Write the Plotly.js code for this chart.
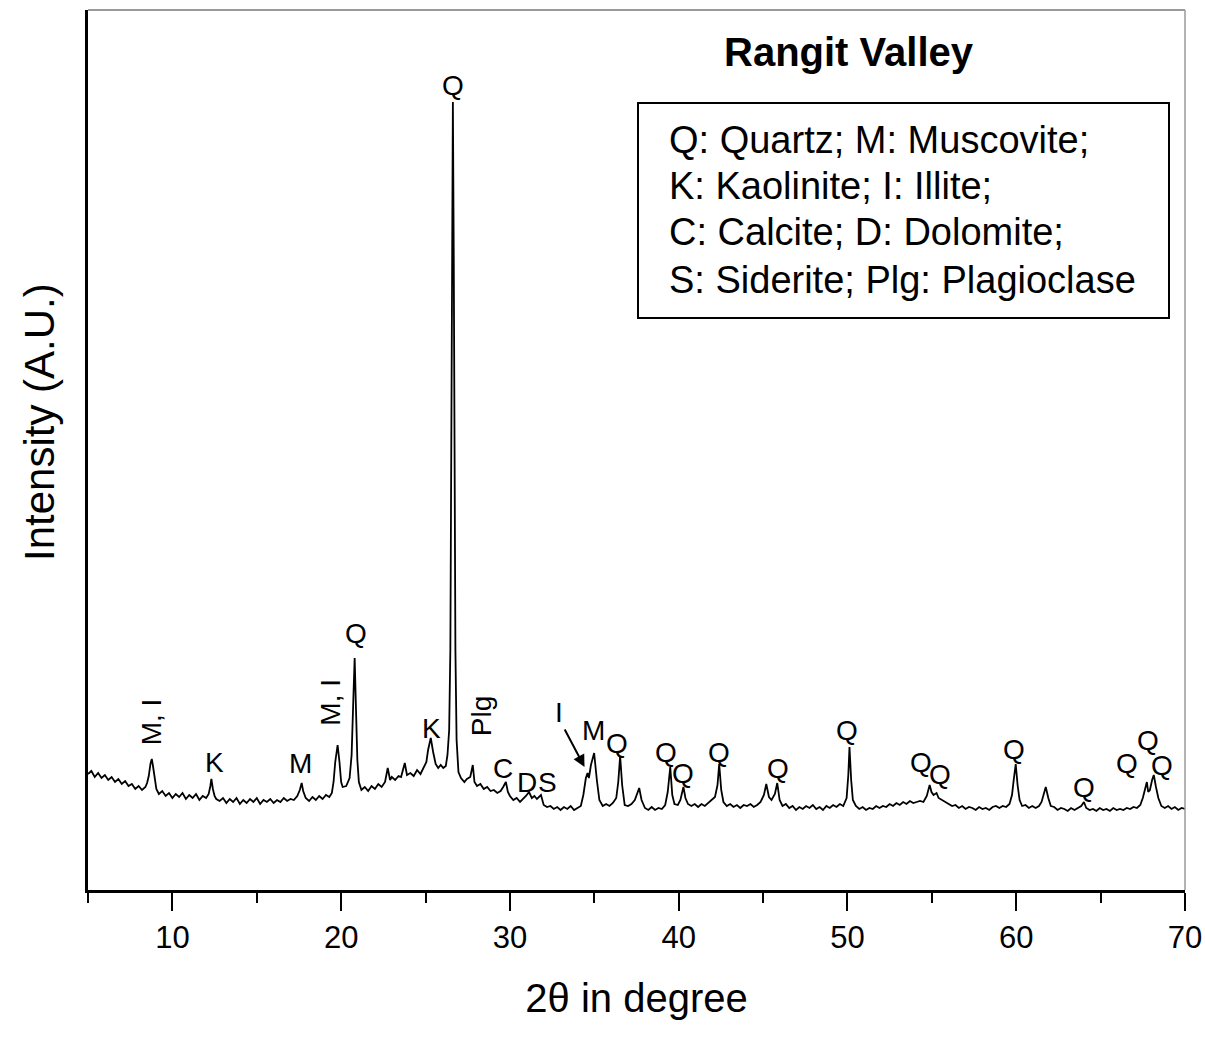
<!DOCTYPE html>
<html>
<head>
<meta charset="utf-8">
<script src="https://cdn.plot.ly/plotly-3.0.1.min.js"></script>
<style>
html,body{margin:0;padding:0;background:#fff;}
#chart{width:1205px;height:1037px;}
</style>
</head>
<body>
<div id="chart"></div>
<script>
// ---- Data (2θ in degree, intensity in arbitrary units) ----
var twoTheta = [5.0,5.2,5.4,5.6,5.8,6.0,6.2,6.4,6.6,6.8,7.0,7.2,7.4,7.6,7.8,8.0,8.2,8.4,8.5,8.6,8.7,8.78,8.85,8.95,9.05,9.2,9.4,9.6,9.8,10.0,10.2,10.4,10.6,10.8,11.0,11.2,11.4,11.6,11.8,12.0,12.15,12.25,12.31,12.4,12.5,12.6,12.8,13.0,13.2,13.4,13.6,13.8,14.0,14.2,14.4,14.6,14.8,15.0,15.2,15.4,15.6,15.8,16.0,16.2,16.4,16.6,16.8,17.0,17.2,17.4,17.55,17.66,17.75,17.9,18.1,18.3,18.5,18.7,18.9,19.1,19.3,19.45,19.55,19.65,19.79,19.9,20.0,20.09,20.3,20.5,20.62,20.72,20.80,20.88,20.96,21.05,21.2,21.4,21.6,21.8,22.0,22.2,22.4,22.6,22.76,22.9,23.0,23.2,23.4,23.55,23.77,23.9,24.1,24.3,24.5,24.7,24.9,25.05,25.15,25.31,25.45,25.6,25.75,25.9,26.05,26.2,26.3,26.4,26.47,26.52,26.57,26.62,26.67,26.72,26.77,26.84,26.95,27.1,27.3,27.45,27.65,27.8,27.9,28.05,28.25,28.45,28.65,28.85,29.05,29.25,29.45,29.6,29.76,29.88,30.0,30.2,30.4,30.6,30.8,30.95,31.13,31.3,31.45,31.6,31.84,32.0,32.2,32.4,32.6,32.8,33.0,33.2,33.4,33.6,33.8,34.0,34.2,34.35,34.5,34.6,34.68,34.8,34.99,35.15,35.3,35.5,35.7,35.9,36.1,36.3,36.42,36.53,36.65,36.8,37.0,37.2,37.4,37.66,37.8,38.0,38.2,38.4,38.6,38.8,39.0,39.2,39.35,39.5,39.62,39.75,39.95,40.1,40.28,40.4,40.55,40.75,40.95,41.15,41.35,41.55,41.75,41.95,42.15,42.3,42.4,42.52,42.65,42.85,43.05,43.25,43.45,43.65,43.85,44.05,44.25,44.45,44.65,44.85,45.05,45.19,45.35,45.5,45.7,45.84,45.98,46.15,46.35,46.55,46.75,46.95,47.15,47.35,47.55,47.75,47.95,48.15,48.35,48.55,48.75,48.95,49.15,49.35,49.55,49.75,49.95,50.05,50.12,50.22,50.32,50.5,50.7,50.9,51.1,51.3,51.5,51.7,51.9,52.1,52.3,52.5,52.7,52.9,53.1,53.3,53.5,53.7,53.9,54.1,54.3,54.5,54.7,54.87,54.98,55.1,55.28,55.4,55.6,55.8,56.0,56.2,56.4,56.6,56.8,57.0,57.2,57.4,57.6,57.8,58.0,58.2,58.4,58.6,58.8,59.0,59.2,59.4,59.6,59.75,59.85,59.97,60.08,60.2,60.35,60.55,60.75,60.95,61.15,61.35,61.5,61.75,61.9,62.05,62.25,62.45,62.65,62.85,63.05,63.25,63.45,63.65,63.85,64.01,64.15,64.35,64.55,64.75,64.95,65.15,65.35,65.55,65.75,65.95,66.15,66.35,66.55,66.75,66.95,67.15,67.35,67.5,67.62,67.74,67.82,67.92,68.05,68.15,68.28,68.42,68.6,68.8,69.0,69.2,69.4,69.6,69.8,70.0];
var intensity = [116,119,113,117,112,115,110,113,108,111,106,109,104,106,101,104,100,103,107,114,126,131,124,110,101,96,99,94,97,92,96,93,97,91,95,92,96,90,94,92,96,104,111,101,94,91,89,92,87,91,88,92,86,90,87,91,88,92,86,90,88,91,87,90,88,92,89,91,90,94,100,107,99,92,89,93,90,94,91,95,93,97,108,128,145,128,108,103,104,112,135,190,232,180,130,108,100,103,99,104,101,106,103,108,122,110,113,110,114,113,127,115,117,114,120,116,122,128,140,152,138,126,122,125,122,124,135,160,240,440,640,788,640,440,240,150,118,112,108,111,113,125,108,104,106,101,103,99,100,97,99,103,108,98,94,90,92,88,91,94,98,92,94,91,95,85,83,84,81,83,80,83,81,84,80,82,84,95,112,117,112,125,137,110,90,84,86,84,87,92,108,134,105,85,84,86,90,102,90,82,80,83,80,82,81,85,98,123,95,86,85,90,103,92,86,84,86,83,86,84,87,90,93,105,126,100,88,84,86,83,85,82,85,84,86,83,85,88,95,106,93,90,96,107,90,84,86,82,84,80,83,81,84,82,85,81,83,80,84,82,85,83,86,84,92,115,143,110,90,84,81,83,80,82,81,84,82,84,83,86,84,87,85,88,86,89,87,88,89,88,94,105,98,95,97,92,90,88,86,84,85,82,84,81,83,82,80,83,81,82,80,83,84,82,84,83,86,95,110,126,105,90,84,85,82,84,82,84,88,103,92,84,83,80,82,81,79,82,80,82,84,88,82,80,81,79,82,80,81,79,82,80,81,80,82,81,83,82,85,92,100,108,98,100,110,115,103,92,84,82,84,81,83,80,82,81];

// Peak labels (phase letter, 2θ, intensity where the label sits, rotation)
var peakLabels = ["M, I","K","M","M, I","Q","K","Q","Plg","C","D","S","I","M","Q","Q","Q","Q","Q","Q","Q","Q","Q","Q","Q","Q","Q"];
var peakLabelTheta = [8.75,12.49,17.61,19.32,20.88,25.37,26.63,28.30,29.59,31.01,32.20,32.91,34.93,36.35,39.26,40.27,42.40,45.89,50.00,54.34,55.46,59.85,64.01,66.57,67.82,68.66];
var peakLabelInt = [168,128,127,188,257,162,805,174,122,108,108,178,160,147,138,117,138,122,160,128,116,141,103,127,150,125];
var peakLabelAngle = [-90,0,0,-90,0,0,0,-90,0,0,0,0,0,0,0,0,0,0,0,0,0,0,0,0,0,0];

// Arrow pointing to the illite shoulder
var arrowTail = [33.20, 162];
var arrowHead = [34.42, 123];

var chartTitle = "Rangit Valley";
var xTitle = "2\u03b8 in degree";
var yTitle = "Intensity (A.U.)";
var legendLines = ["Q: Quartz; M: Muscovite;", "K: Kaolinite; I: Illite;", "C: Calcite; D: Dolomite;", "S: Siderite; Plg: Plagioclase"];
var xTickValues = [10,20,30,40,50,60,70];
var xMinorTickValues = [5,15,25,35,45,55,65];

// ---- Chart ----
var FONT = "Liberation Sans, Arial, Helvetica, sans-serif";
var L = 88, R = 1185, T = 10, B = 890;
function px2paperX(px){ return (px - L) / (R - L); }
function py2paperY(py){ return (B - py) / (B - T); }

var annotations = [];
for (var i = 0; i < peakLabels.length; i++) {
  annotations.push({
    x: peakLabelTheta[i], y: peakLabelInt[i], xref: 'x', yref: 'y',
    text: peakLabels[i], showarrow: false, textangle: peakLabelAngle[i],
    font: {family: FONT, size: 28, color: '#000'},
    xanchor: 'center', yanchor: 'middle'
  });
}
annotations.push({
  x: arrowHead[0], y: arrowHead[1], ax: arrowTail[0], ay: arrowTail[1],
  xref: 'x', yref: 'y', axref: 'x', ayref: 'y',
  text: '', showarrow: true, arrowhead: 2, arrowsize: 1.2, arrowwidth: 2, arrowcolor: '#000'
});
annotations.push({
  x: px2paperX(849), y: py2paperY(52), xref: 'paper', yref: 'paper',
  text: '<b>' + chartTitle + '</b>', showarrow: false,
  font: {family: FONT, size: 40, color: '#000'}, xanchor: 'center', yanchor: 'middle'
});
// y-axis title, drawn as rotated text left of the axis (reference sits slightly above centre)
annotations.push({
  x: px2paperX(40), y: py2paperY(422), xref: 'paper', yref: 'paper',
  text: yTitle, showarrow: false, textangle: -90,
  font: {family: FONT, size: 42, color: '#000'}, xanchor: 'center', yanchor: 'middle'
});
var lineY = [140, 186, 232, 280];
for (var j = 0; j < legendLines.length; j++) {
  annotations.push({
    x: px2paperX(667), y: py2paperY(lineY[j]), xref: 'paper', yref: 'paper',
    text: legendLines[j], showarrow: false,
    font: {family: FONT, size: 38, color: '#000'}, xanchor: 'left', yanchor: 'middle'
  });
}

var shapes = [
  {type: 'rect', xref: 'paper', yref: 'paper', x0: px2paperX(638), x1: px2paperX(1169), y0: py2paperY(318), y1: py2paperY(103),
   line: {color: '#000', width: 2}, fillcolor: 'rgba(0,0,0,0)'},
  {type: 'line', xref: 'paper', yref: 'paper', x0: 0, x1: 1, y0: 1, y1: 1, line: {color: '#9a9a9a', width: 2}},
  {type: 'line', xref: 'paper', yref: 'paper', x0: 1, x1: 1, y0: 0, y1: 1, line: {color: '#9a9a9a', width: 1.5}}
];

var trace = {
  x: twoTheta, y: intensity, type: 'scatter', mode: 'lines',
  line: {color: '#000', width: 1.8}, hoverinfo: 'skip'
};

var layout = {
  width: 1205, height: 1037,
  margin: {l: L, r: 1205 - R, t: T, b: 1037 - B, pad: 0},
  paper_bgcolor: '#fff', plot_bgcolor: '#fff',
  showlegend: false,
  font: {family: FONT, color: '#000'},
  xaxis: {
    range: [5, 70], tickvals: xTickValues, ticktext: xTickValues.map(String),
    ticks: 'outside', ticklen: 18, tickwidth: 2, tickcolor: '#000',
    minor: {tickvals: xMinorTickValues, ticks: 'outside', ticklen: 10, tickwidth: 2, tickcolor: '#000'},
    showline: true, linecolor: '#000', linewidth: 3,
    showgrid: false, zeroline: false,
    tickfont: {family: FONT, size: 31, color: '#000'},
    title: {text: xTitle, font: {family: FONT, size: 40, color: '#000'}, standoff: 30}
  },
  yaxis: {
    range: [0, 880], showticklabels: false, ticks: '',
    showline: true, linecolor: '#000', linewidth: 3,
    showgrid: false, zeroline: false,
    title: {text: ''}
  },
  annotations: annotations,
  shapes: shapes
};

Plotly.newPlot('chart', [trace], layout, {displayModeBar: false, staticPlot: true});
</script>
</body>
</html>
